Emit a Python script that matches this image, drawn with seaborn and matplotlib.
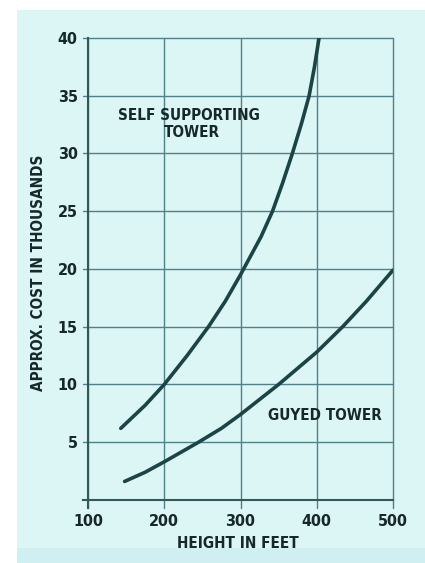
import matplotlib
matplotlib.use("Agg")
import matplotlib.pyplot as plt
from matplotlib.patches import Rectangle
import seaborn as sns
import pandas as pd

# ---- data ----
self_height = [143, 175, 200, 230, 258, 280, 300, 327, 342, 355, 368, 380, 390, 397, 403]
self_cost = [6.2, 8.2, 10.0, 12.5, 15.0, 17.2, 19.5, 22.8, 25.0, 27.4, 30.0, 32.6, 35.0, 37.5, 40.0]
guyed_height = [148, 175, 200, 245, 275, 300, 325, 350, 375, 400, 434, 465, 500]
guyed_cost = [1.6, 2.4, 3.3, 5.0, 6.2, 7.4, 8.7, 10.0, 11.4, 12.8, 15.0, 17.2, 19.9]
x_ticks = [100, 200, 300, 400, 500]
y_ticks = [5, 10, 15, 20, 25, 30, 35, 40]
x_label = "HEIGHT IN FEET"
y_label = "APPROX. COST IN THOUSANDS"

bg = "#dcf5f5"
ink = "#16282a"
grid_c = "#4f8188"
curve_c = "#1c4346"

sns.set_style("white")
plt.rcParams['font.family'] = ['DejaVu Sans']
plt.rcParams['font.stretch'] = 'condensed'

df_self = pd.DataFrame({"h": self_height, "c": self_cost})
df_guy = pd.DataFrame({"h": guyed_height, "c": guyed_cost})

fig = plt.figure(figsize=(4.25, 5.63), dpi=100, facecolor="white")
# paper area (scanned page tint)
fig.patches.append(Rectangle((17 / 425, 0), 1 - 17 / 425, 1 - 10 / 563,
                             transform=fig.transFigure, facecolor=bg,
                             edgecolor="none", zorder=-10))
fig.patches.append(Rectangle((17 / 425, 0), 1 - 17 / 425, 15 / 563,
                             transform=fig.transFigure, facecolor="#cfeff0",
                             edgecolor="none", zorder=-9))

x0, x1 = 94, 500
left_px = 88 - (100 - x0) / (x1 - 100) * (393 - 88)
ax = fig.add_axes([left_px / 425, 1 - 508 / 563, (393 - left_px) / 425, (508 - 38) / 563])
ax.set_facecolor("none")

sns.lineplot(data=df_self, x="h", y="c", ax=ax, color=curve_c, lw=2.6, sort=True)
sns.lineplot(data=df_guy, x="h", y="c", ax=ax, color=curve_c, lw=2.6, sort=True)
for ln in ax.lines:
    ln.set_solid_joinstyle("round")
    ln.set_solid_capstyle("round")

ax.set_xlim(x0, x1)
ax.set_ylim(-0.7, 40)

# grid
for xv in x_ticks:
    ax.axvline(xv, color=grid_c, lw=1.0, zorder=0, clip_on=False)
for yv in y_ticks:
    ax.axhline(yv, color=grid_c, lw=1.0, zorder=0, clip_on=False)

for s in ["top", "right"]:
    ax.spines[s].set_visible(False)
ax.spines["left"].set_position(("data", 100))
ax.spines["bottom"].set_position(("data", 0))
ax.spines["left"].set_bounds(-0.7, 40)
ax.spines["bottom"].set_bounds(x0, 500)
for s in ["left", "bottom"]:
    ax.spines[s].set_color("#33585c")
    ax.spines[s].set_linewidth(1.5)

ax.set_xticks(x_ticks)
ax.set_yticks(y_ticks)
ax.set_xticklabels([str(v) for v in x_ticks])
ax.set_yticklabels([str(v) for v in y_ticks])
ax.tick_params(axis="both", direction="out", length=6, width=1.2, color="#33585c",
               labelsize=11.5, labelcolor=ink)
for lab in ax.get_xticklabels() + ax.get_yticklabels():
    lab.set_fontweight("bold")
ax.tick_params(axis="x", pad=4)
ax.tick_params(axis="y", pad=1.5)

ax.set_xlabel(x_label, fontsize=11, color=ink, labelpad=5, fontweight="bold")
ax.set_ylabel(y_label, fontsize=11, color=ink, labelpad=8, fontweight="bold")

ax.text(232, 33.3, "SELF SUPPORTING", ha="center", va="center", fontsize=11,
        color=ink, fontweight="bold")
ax.text(236, 31.8, "TOWER", ha="center", va="center", fontsize=11,
        color=ink, fontweight="bold")
ax.text(410, 7.3, "GUYED TOWER", ha="center", va="center", fontsize=11,
        color=ink, fontweight="bold")

fig.savefig("out.png", dpi=100, facecolor="white")
